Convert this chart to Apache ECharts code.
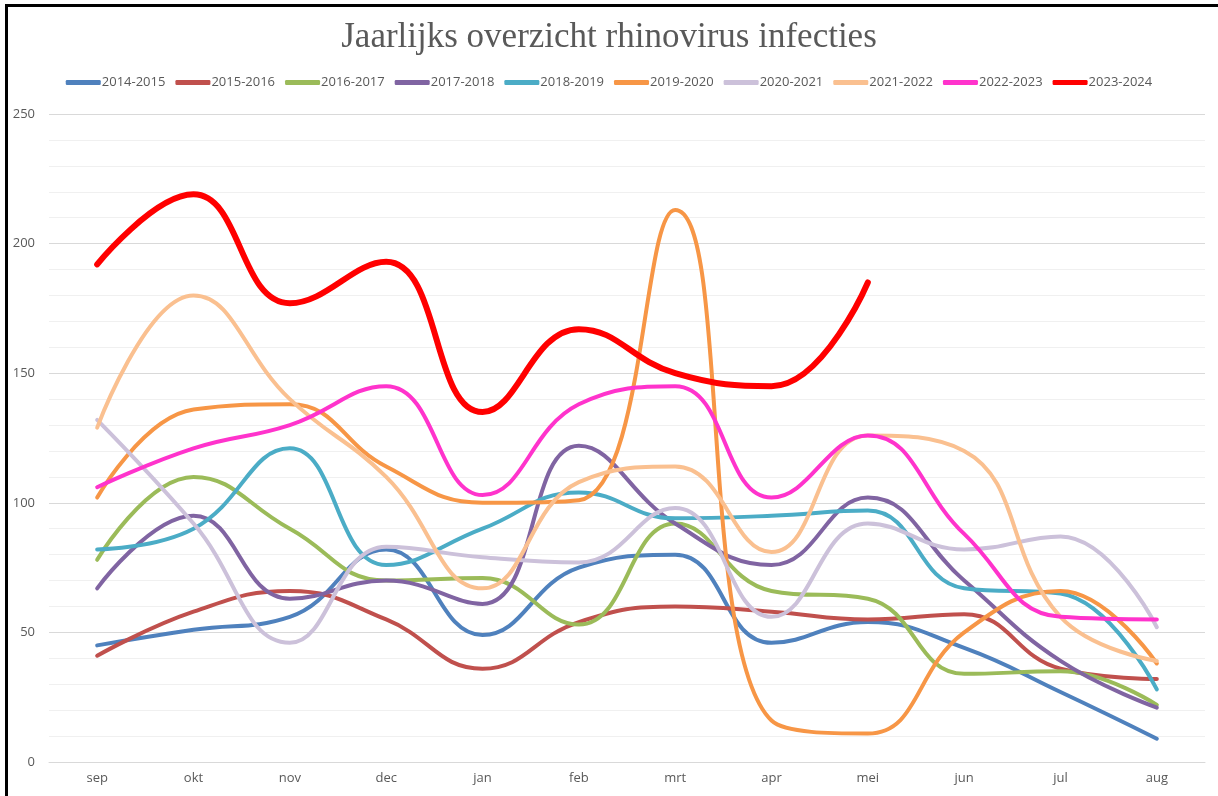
<!DOCTYPE html>
<html>
<head>
<meta charset="utf-8">
<script src="https://cdn.jsdelivr.net/npm/echarts@6/dist/echarts.min.js"></script>
<style>
  html, body { margin: 0; padding: 0; background: #fff; }
  #frame { position: absolute; left: 5px; top: 4px; width: 1210px; height: 800px;
           border-left: 3px solid #000; border-top: 3px solid #000; border-right: 1px solid #d9d9d9; }
  #main { position: absolute; left: 0; top: 0; width: 1218px; height: 796px; }
</style>
</head>
<body>
<div id="frame"></div>
<div id="main"></div>
<script>
  // maanden van het seizoen
  const months = ['sep', 'okt', 'nov', 'dec', 'jan', 'feb', 'mrt', 'apr', 'mei', 'jun', 'jul', 'aug']
  const seasons = ['2014-2015', '2015-2016', '2016-2017', '2017-2018', '2018-2019',
    '2019-2020', '2020-2021', '2021-2022', '2022-2023', '2023-2024']

  const s1415 = [45, 51, 56, 82, 49, 75, 80, 46, 54, 44, 27, 9]
  const s1516 = [41, 58, 66, 55, 36, 54, 60, 58, 55, 57, 36, 32]
  const s1617 = [78, 110, 90, 70, 71, 53, 92, 66, 63, 34, 35, 22]
  const s1718 = [67, 95, 63, 70, 61, 122, 92, 76, 102, 70, 39, 21]
  const s1819 = [82, 90, 121, 76, 90, 104, 94, 95, 97, 67, 65, 28]
  const s1920 = [102, 136, 138, 114, 100, 101, 213, 16, 11, 50, 66, 38]
  const s2021 = [132, 92, 46, 83, 79, 77, 98, 56, 92, 82, 87, 52]
  const s2122 = [129, 180, 140, 110, 67, 108, 114, 81, 126, 120, 56, 39]
  const s2223 = [106, 121, 130, 145, 103, 138, 145, 102, 126, 88, 56, 55]
  const s2324 = [192, 219, 177, 193, 135, 167, 150, 145, 185, null, null, null]

  const yTicks = [0, 50, 100, 150, 200, 250]

  const allData = [s1415, s1516, s1617, s1718, s1819, s1920, s2021, s2122, s2223, s2324]
  const colors = ['#4f81bd', '#c0504d', '#9bbb59', '#8064a2', '#4bacc6',
    '#f79646', '#ccc1da', '#fac090', '#ff33cc', '#ff0000']

  let chart = echarts.init(document.getElementById('main'))
  chart.setOption({
    animation: false,
    color: colors,
    title: {
      text: 'Jaarlijks overzicht rhinovirus infecties',
      left: 'center',
      top: 15,
      textStyle: { fontFamily: 'Liberation Serif', fontSize: 35, fontWeight: 'normal', color: '#595959' }
    },
    legend: {
      data: seasons,
      top: 71,
      left: 'center',
      itemWidth: 35,
      itemHeight: 5,
      itemGap: 10,
      icon: 'roundRect',
      textStyle: { fontFamily: 'Open Sans', fontSize: 13, color: '#595959', padding: [0, 0, 0, -4] }
    },
    grid: { left: 49, right: 13, top: 114, bottom: 34 },
    xAxis: {
      type: 'category',
      data: months,
      boundaryGap: true,
      axisLine: { lineStyle: { color: '#d9d9d9' } },
      axisTick: { show: false },
      axisLabel: { fontFamily: 'Open Sans', fontSize: 13, color: '#595959', margin: 10 }
    },
    yAxis: {
      type: 'value',
      min: yTicks[0],
      max: yTicks[yTicks.length - 1],
      interval: 50,
      axisLine: { show: false },
      axisTick: { show: false },
      axisLabel: { fontFamily: 'Open Sans', fontSize: 13, color: '#595959', margin: 14 },
      splitLine: { lineStyle: { color: '#d9d9d9', width: 1 } },
      minorTick: { show: false, splitNumber: 5 },
      minorSplitLine: { show: true, lineStyle: { color: '#f0f0f0', width: 1 } }
    },
    series: allData.map((d, i) => ({
      name: seasons[i],
      type: 'line',
      data: d,
      smooth: 0.45,
      showSymbol: false,
      symbol: 'none',
      lineStyle: { width: i === 9 ? 6 : 4, cap: 'round' },
      z: i === 9 ? 5 : 2
    }))
  })
</script>
</body>
</html>
